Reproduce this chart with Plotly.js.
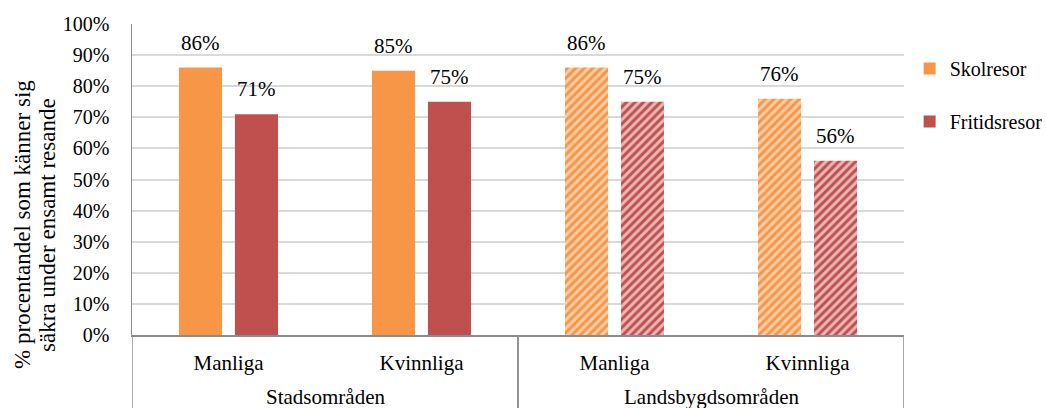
<!DOCTYPE html>
<html>
<head>
<meta charset="utf-8">
<script src="https://cdn.plot.ly/plotly-3.0.1.min.js"></script>
<style>
  html, body { margin: 0; padding: 0; background: #fff; }
  #chart { width: 1046px; height: 408px; }
</style>
</head>
<body>
<div id="chart"></div>
<script>
// Area groups (outer level) and gender categories (inner level)
const areas = ["Stadsområden", "Stadsområden", "Landsbygdsområden", "Landsbygdsområden"];
const genders = ["Manliga", "Kvinnliga", "Manliga", "Kvinnliga"];

// Share (%) who feel safe travelling alone
const skolresor = [86, 85, 86, 76];
const fritidsresor = [71, 75, 75, 56];

const seriesNames = ["Skolresor", "Fritidsresor"];
const yTickVals = [0, 10, 20, 30, 40, 50, 60, 70, 80, 90, 100];
const yTickText = yTickVals.map(v => v + "%");
const yTitleLines = ["% procentandel som känner sig", "säkra under ensamt resande"];

const FONT = "'Liberation Serif', 'Times New Roman', Times, serif";
const AXIS_GREY = "#8C8C8C";
const orange = "#F79646", orangeLight = "#FBCDA6";
const red = "#C0504D", redLight = "#E8B7B6";

const idx = genders.map((_, i) => i);
// Rural bars are hatched, urban bars solid
const isRural = areas.map(a => a === "Landsbygdsområden");

function barTrace(name, values, base, light) {
  return {
    type: "bar",
    name: name,
    x: idx,
    y: values,
    legendgroup: name,
    marker: {
      color: base,
      line: { width: 0 },
      pattern: {
        shape: isRural.map(r => r ? "/" : ""),
        fgcolor: light,
        bgcolor: base,
        fillmode: "replace",
        size: 6,
        solidity: 0.5
      }
    },
    hoverinfo: "skip"
  };
}

const traces = [
  barTrace(seriesNames[0], skolresor, orange, orangeLight),
  barTrace(seriesNames[1], fritidsresor, red, redLight)
];

// Value labels above each bar
const annotations = [];
[skolresor, fritidsresor].forEach((vals, s) => {
  vals.forEach((v, i) => {
    annotations.push({
      x: idx[i], y: v, xref: "x", yref: "y",
      text: v + "%",
      showarrow: false,
      yanchor: "bottom",
      xshift: s === 0 ? -28 : 28,
      yshift: 11,
      font: { family: FONT, size: 21, color: "#000" }
    });
  });
});

// Outer group labels and the divider lines that box them in
const shapes = [];
const groupNames = [...new Set(areas)];
groupNames.forEach(g => {
  const members = idx.filter(i => areas[i] === g);
  const lo = Math.min(...members) - 0.5, hi = Math.max(...members) + 0.5;
  annotations.push({
    x: (lo + hi) / 2, xref: "x", y: -0.198, yref: "paper",
    yanchor: "middle", showarrow: false, text: g,
    font: { family: FONT, size: 21, color: "#000" }
  });
  [lo, hi].forEach(b => shapes.push({
    type: "line", xref: "x", yref: "paper",
    x0: b, x1: b, y0: 0, y1: -0.24,
    line: { color: AXIS_GREY, width: 1.5 }
  }));
});

// Rotated two-line value-axis title
yTitleLines.forEach((line, k) => {
  annotations.push({
    xref: "paper", x: 0, xshift: k === 0 ? -109 : -84, xanchor: "center",
    yref: "paper", y: 0.354, yanchor: "middle",
    textangle: -90, showarrow: false, text: line,
    font: { family: FONT, size: 23, color: "#000" }
  });
});

const layout = {
  width: 1046, height: 408,
  margin: { l: 132, r: 142, t: 24, b: 73, autoexpand: false },
  paper_bgcolor: "#fff", plot_bgcolor: "#fff",
  font: { family: FONT, size: 21, color: "#000" },
  barmode: "group",
  bargap: 0.42,
  bargroupgap: 0.23,
  showlegend: true,
  legend: {
    x: 1.0073, xanchor: "left", y: 0.92, yanchor: "top",
    font: { family: FONT, size: 20, color: "#000" },
    tracegroupgap: 24,
    traceorder: "grouped",
    itemclick: false
  },
  xaxis: {
    range: [-0.5, 3.5],
    tickvals: idx, ticktext: genders,
    showline: true, linecolor: AXIS_GREY, linewidth: 1.5,
    showgrid: false, zeroline: false,
    ticks: "outside", ticklen: 8, tickcolor: "rgba(0,0,0,0)",
    tickfont: { family: FONT, size: 21, color: "#000" },
    fixedrange: true,
    automargin: false
  },
  yaxis: {
    range: [0, 100],
    tickvals: yTickVals, ticktext: yTickText,
    showline: true, linecolor: AXIS_GREY, linewidth: 1.5,
    gridcolor: "#D9D9D9", gridwidth: 2,
    zeroline: false,
    ticks: "outside", ticklen: 17, tickcolor: "rgba(0,0,0,0)",
    tickfont: { family: FONT, size: 20, color: "#000" },
    fixedrange: true,
    automargin: false
  },
  shapes: shapes,
  annotations: annotations
};

Plotly.newPlot("chart", traces, layout, { staticPlot: true, displayModeBar: false });
</script>
</body>
</html>
